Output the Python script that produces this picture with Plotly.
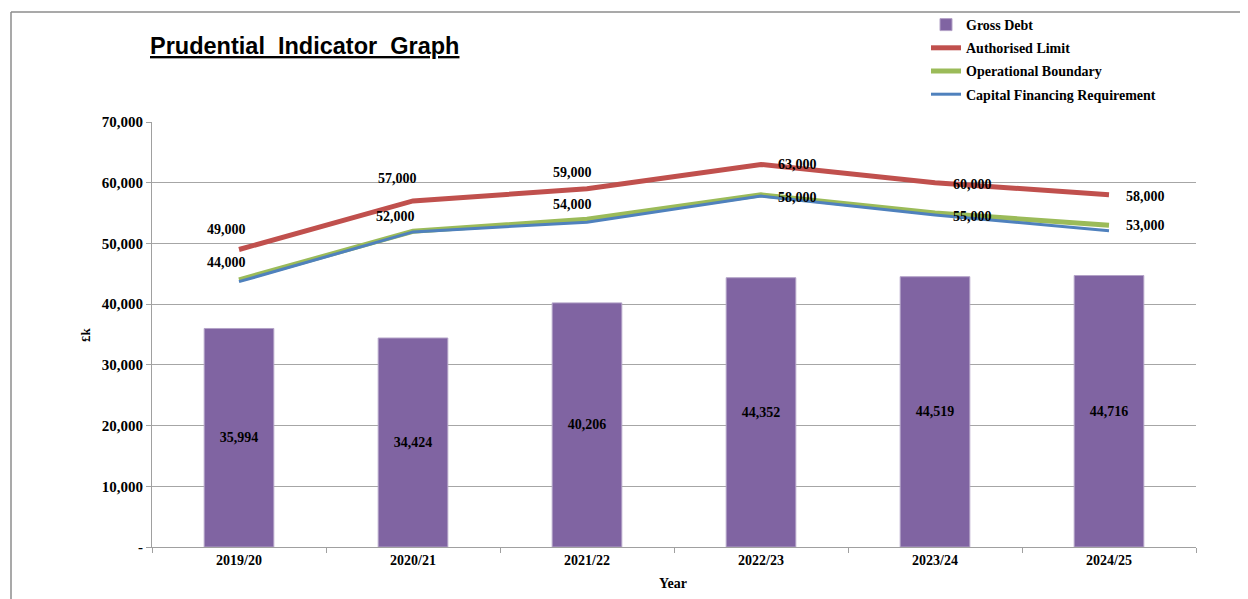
import plotly.graph_objects as go

years = ["2019/20", "2020/21", "2021/22", "2022/23", "2023/24", "2024/25"]
gross_debt = [35994, 34424, 40206, 44352, 44519, 44716]
authorised_limit = [49000, 57000, 59000, 63000, 60000, 58000]
operational_boundary = [44000, 52000, 54000, 58000, 55000, 53000]
capital_financing_req = [43700, 51900, 53500, 57800, 54700, 52100]

y_tick_vals = [0, 10000, 20000, 30000, 40000, 50000, 60000, 70000]
y_tick_text = ["-", "10,000", "20,000", "30,000", "40,000", "50,000", "60,000", "70,000"]

# label offsets (xshift, yshift, anchor) per point
auth_offsets = [(-13, 20, "center"), (-16, 22, "center"), (-15, 16, "center"),
                (15, 0, "left"), (16, -2, "left"), (15, -2, "left")]
op_offsets = [(-13, 17, "center"), (-18, 15, "center"), (-15, 15, "center"),
              (15, -3, "left"), (16, -3, "left"), (15, 0, "left")]

SERIF = "Liberation Serif, Times New Roman, serif"

fig = go.Figure()
fig.add_trace(go.Bar(
    x=years, y=gross_debt, name="Gross Debt", width=0.4, legendgroup="a",
    marker=dict(color="#8064A2", line=dict(color="#B3A2C7", width=1)),
    text=[f"{v:,}" for v in gross_debt], textposition="inside",
    insidetextanchor="middle", textangle=0, constraintext="none",
    textfont=dict(family=SERIF, size=14, color="black", weight="bold"),
))
fig.add_trace(go.Scatter(x=years, y=authorised_limit, name="Authorised Limit", legendgroup="b",
                         mode="lines", line=dict(color="#C0504D", width=5)))
fig.add_trace(go.Scatter(x=years, y=operational_boundary, name="Operational Boundary",
                         legendgroup="c",
                         mode="lines", line=dict(color="#9BBB59", width=5)))
fig.add_trace(go.Scatter(x=years, y=capital_financing_req, name="Capital Financing Requirement",
                         legendgroup="d",
                         mode="lines", line=dict(color="#4F81BD", width=3)))

annotations = []
for series, offs in ((authorised_limit, auth_offsets), (operational_boundary, op_offsets)):
    for yr, v, (dx, dy, anc) in zip(years, series, offs):
        annotations.append(dict(x=yr, y=v, xref="x", yref="y", text=f"{v:,}",
                                showarrow=False, xshift=dx, yshift=dy, xanchor=anc,
                                font=dict(family=SERIF, size=14, color="black", weight="bold")))

annotations.append(dict(text="<u>Prudential  Indicator  Graph</u>", xref="paper", yref="paper",
                        x=(148 - 152) / 1044, y=(547 - 46) / 425, xanchor="left", yanchor="middle",
                        showarrow=False,
                        font=dict(family="Liberation Sans, Arial, sans-serif", size=23.5,
                                  color="black", weight="bold")))
annotations.append(dict(text="£k", xref="paper", yref="paper", x=(85 - 152) / 1044,
                        y=(547 - 335) / 425, textangle=-90, showarrow=False,
                        xanchor="center", yanchor="middle",
                        font=dict(family=SERIF, size=13, color="black", weight="bold")))
annotations.append(dict(text="Year", xref="paper", yref="paper", x=(673 - 152) / 1044,
                        y=(547 - 583) / 425, showarrow=False, xanchor="center", yanchor="middle",
                        font=dict(family=SERIF, size=14, color="black", weight="bold")))

border = "#8C8C8C"
shapes = [
    dict(type="line", xref="paper", yref="paper", x0=(11 - 152) / 1044, x1=(1260 - 152) / 1044,
         y0=(547 - 12) / 425, y1=(547 - 12) / 425, line=dict(color=border, width=1.5)),
    dict(type="line", xref="paper", yref="paper", x0=(11 - 152) / 1044, x1=(11 - 152) / 1044,
         y0=(547 - 12) / 425, y1=(547 - 610) / 425, line=dict(color=border, width=1.5)),
]

fig.update_layout(
    width=1240, height=591,
    margin=dict(l=144, r=52, t=114, b=52, autoexpand=False),
    paper_bgcolor="white", plot_bgcolor="white",
    showlegend=True,
    legend=dict(x=(926 - 152) / 1044, y=(547 - 9) / 425, xanchor="left", yanchor="top",
                font=dict(family=SERIF, size=14, color="black", weight="bold"),
                bgcolor="rgba(0,0,0,0)", itemwidth=30, tracegroupgap=2,
                traceorder="grouped"),
    annotations=annotations, shapes=shapes,
    bargap=0.6,
)
fig.update_xaxes(type="category", tickson="boundaries", ticks="outside", ticklen=5,
                 tickcolor="#A0A0A0", showline=True, linecolor="#A0A0A0", linewidth=1,
                 showgrid=False,
                 tickfont=dict(family=SERIF, size=14, color="black", weight="bold"))
fig.update_yaxes(range=[0, 70000], tickvals=y_tick_vals, ticktext=y_tick_text,
                 ticks="outside", ticklen=5, tickcolor="#A0A0A0", showline=True,
                 linecolor="#A0A0A0", linewidth=1, showgrid=True, gridcolor="#A6A6A6",
                 gridwidth=1, zeroline=False,
                 tickfont=dict(family=SERIF, size=15, color="black", weight="bold"))

fig.write_html("out.html")
